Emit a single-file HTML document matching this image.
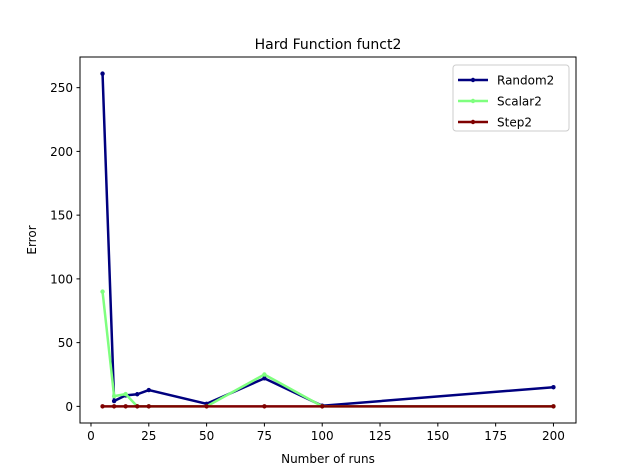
<!DOCTYPE html>
<html><head><meta charset="utf-8"><style>
body{margin:0;background:#fff;}
svg{display:block;font-family:"DejaVu Sans","Liberation Sans",sans-serif;}
</style></head><body>
<svg id="c" width="640" height="476" xmlns="http://www.w3.org/2000/svg">
<rect width="640" height="476" fill="#fff"/>
<text x="328" y="49" font-size="14" text-anchor="middle">Hard Function funct2</text>
<g id="grid"></g>
<g id="series"></g>
<rect x="80" y="57" width="496" height="366" fill="none" stroke="#000" stroke-width="1"/>
<text x="328" y="463" font-size="12" text-anchor="middle">Number of runs</text>
<text x="0" y="0" font-size="12" text-anchor="middle" transform="translate(36,240) rotate(-90)">Error</text>
<g>
<rect x="453" y="65" width="116" height="66" rx="3" fill="#fff" stroke="#ccc"/>
</g>
</svg>
<script>
const xs=[5,10,15,20,25,50,75,100,200];
const random2=[261,4.2,8.6,9.5,12.8,2,22,0.5,15];
const scalar2=[90,8,9.6,0,0,0,25,0,0];
const step2=[0,0,0,0,0,0,0,0,0];
const xTicks=[0,25,50,75,100,125,150,175,200];
const yTicks=[0,50,100,150,200,250];
const names=["Random2","Scalar2","Step2"];
const colors=["#00007f","#7fff7f","#7f0000"];
const NS="http://www.w3.org/2000/svg";
const svg=document.getElementById('c');
const L=80,R=576,T=57,B=423;
const xmin=-4.75,xmax=209.75,ymin=-13.05,ymax=274.05;
const X=v=>L+(v-xmin)/(xmax-xmin)*(R-L);
const Y=v=>B-(v-ymin)/(ymax-ymin)*(B-T);
function mk(t,a,p){const e=document.createElementNS(NS,t);for(const k in a)e.setAttribute(k,a[k]);(p||svg).appendChild(e);return e;}
const g=document.getElementById('grid');
xTicks.forEach(t=>{
  const l=mk('line',{x1:X(t),x2:X(t),y1:B,y2:B+3.5,stroke:'#000'},g);
  
  
  const tx=mk('text',{x:X(t),y:B+17,'font-size':12,'text-anchor':'middle'},g);tx.textContent=t;
  
  
});
yTicks.forEach(t=>{
  const l=mk('line',{x1:L-3.5,x2:L,y1:Y(t),y2:Y(t),stroke:'#000'},g);
  
  
  const tx=mk('text',{x:L-7,y:Y(t)+4.5,'font-size':12,'text-anchor':'end'},g);tx.textContent=t;
  
  
});
const s=document.getElementById('series');
[random2,scalar2,step2].forEach((d,i)=>{
  const pl=mk('polyline',{points:xs.map((x,j)=>X(x)+','+Y(d[j])).join(' '),fill:'none',stroke:colors[i],'stroke-width':2.5},s);
  
  
  xs.forEach((x,j)=>{
    const c=mk('circle',{cx:X(x),cy:Y(d[j]),r:2.2,fill:colors[i]},s);
    
    
  });
  const ly=80+i*21;
  const ll=mk('line',{x1:458,x2:488,y1:ly,y2:ly,stroke:colors[i],'stroke-width':2.5});
  
  
  mk('circle',{cx:473,cy:ly,r:2.2,fill:colors[i]});
  const lt=mk('text',{x:497,y:ly+4.5,'font-size':12});lt.textContent=names[i];
  
  
});
</script>
</body></html>
